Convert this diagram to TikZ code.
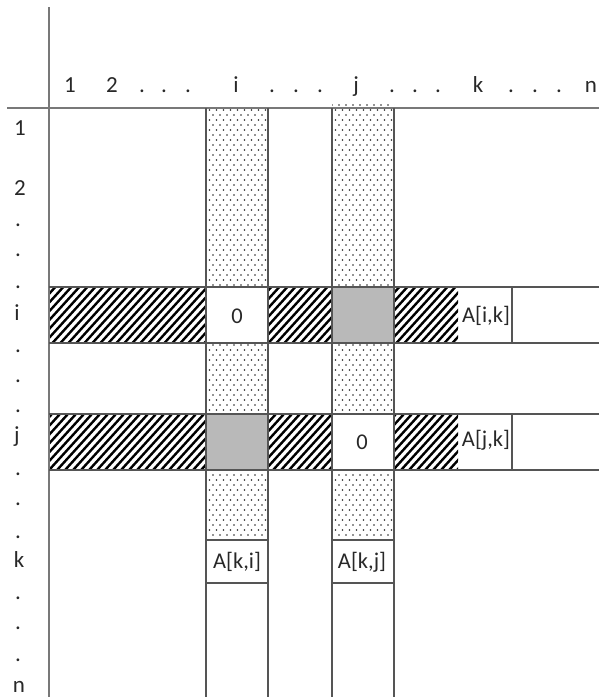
\documentclass[tikz,border=0pt]{standalone}
\usepackage{fontspec}
\setmainfont{Carlito}
\definecolor{linecol}{RGB}{85,85,85}
\definecolor{axiscol}{RGB}{120,120,120}
\definecolor{txtcol}{RGB}{40,40,40}
\definecolor{cellgray}{RGB}{185,185,185}
\definecolor{dotcol}{RGB}{40,40,40}
\begin{document}
\begin{tikzpicture}[x=1pt,y=-1pt,
  lbl/.style={anchor=base,inner sep=0pt,text=txtcol,font=\fontsize{23}{26}\selectfont},
  celltxt/.style={anchor=center,inner sep=0pt,text=txtcol,font=\fontsize{22.5}{26}\selectfont},
  grid/.style={draw=linecol,line width=1.1pt},
  axis/.style={draw=axiscol,line width=1.4pt},
  hatchline/.style={draw=black,line width=2.4pt},
  dotfill/.style={fill=dotcol}]
\useasboundingbox (0,0) rectangle (599,697);

% gray cells
\fill[cellgray] (332,287) rectangle (394,343);
\fill[cellgray] (206,414) rectangle (268,470);

% hatched areas
\begin{scope}
  \clip (49,287) rectangle (206,343) (268,287) rectangle (332,343) (394,287) rectangle (458,343)
        (49,414) rectangle (206,470) (268,414) rectangle (332,470) (394,414) rectangle (458,470);
  \foreach \x in {-120,-112,...,470} \draw[hatchline] (\x,480) -- ++(436,-480);
\end{scope}

% dotted areas
\begin{scope}
  \clip (206,108) rectangle (268,287) (206,343) rectangle (268,414) (206,470) rectangle (268,540)
        (332,104) rectangle (394,287) (332,343) rectangle (394,414) (332,470) rectangle (394,540);
  \foreach \r in {0,...,88} {
    \pgfmathsetmacro\yy{105+5*\r}
    \pgfmathsetmacro\off{mod(\r,2)*3.5}
    \foreach \k in {0,...,9} {
      \fill[dotfill] (206+\off+7*\k,\yy) circle (0.85);
      \fill[dotfill] (332+\off+7*\k,\yy) circle (0.85);
    }
  }
\end{scope}

% axes
\draw[axis] (49,7) -- (49,697);
\draw[axis] (7,108) -- (599,108);

% column band lines
\foreach \x in {206,268,332,394} \draw[grid] (\x,108) -- (\x,697);
% row band lines
\foreach \y in {287,343,414,470} \draw[grid] (49,\y) -- (599,\y);
% A cells
\draw[grid] (512,287) -- (512,343);
\draw[grid] (512,414) -- (512,470);
\draw[grid] (206,540) -- (268,540);
\draw[grid] (206,583) -- (268,583);
\draw[grid] (332,540) -- (394,540);
\draw[grid] (332,583) -- (394,583);

% column labels
\node[lbl] (c1) at (70,92.5) {1};
\node[lbl] (c2) at (112,92.5) {2};
\node[lbl] (cd1) at (142,92.5) {.};
\node[lbl] (cd2) at (164,92.5) {.};
\node[lbl] (cd3) at (188,92.5) {.};
\node[lbl] (ci) at (236,92.5) {i};
\node[lbl] (cd4) at (272,92.5) {.};
\node[lbl] (cd5) at (296,92.5) {.};
\node[lbl] (cd6) at (320,92.5) {.};
\node[lbl] (cj) at (356,92.5) {j};
\node[lbl] (cd7) at (392,92.5) {.};
\node[lbl] (cd8) at (415,92.5) {.};
\node[lbl] (cd9) at (438,92.5) {.};
\node[lbl] (ck) at (478,92.5) {k};
\node[lbl] (cd10) at (511,92.5) {.};
\node[lbl] (cd11) at (535,92.5) {.};
\node[lbl] (cd12) at (559,92.5) {.};
\node[lbl] (cn) at (591,92.5) {n};

% row labels
\node[lbl] (r1) at (20,135) {1};
\node[lbl] (r2) at (20,195) {2};
\node[lbl] (rd1) at (18,226) {.};
\node[lbl] (rd2) at (18,256) {.};
\node[lbl] (rd3) at (18,288) {.};
\node[lbl] (ri) at (17,320) {i};
\node[lbl] (rd4) at (18,352) {.};
\node[lbl] (rd5) at (18,382) {.};
\node[lbl] (rd6) at (18,412) {.};
\node[lbl] (rj) at (17,442) {j};
\node[lbl] (rd7) at (18,475) {.};
\node[lbl] (rd8) at (18,505) {.};
\node[lbl] (rd9) at (18,538) {.};
\node[lbl] (rk) at (19,567) {k};
\node[lbl] (rd10) at (18,599) {.};
\node[lbl] (rd11) at (18,629) {.};
\node[lbl] (rd12) at (18,661) {.};
\node[lbl] (rn) at (19,692) {n};

% cell texts
\node[celltxt] (zii) at (237,316) {0};
\node[celltxt] (zjj) at (362,442) {0};
\node[celltxt] (aik) at (486,316) {A[i,k]};
\node[celltxt] (ajk) at (486,440) {A[j,k]};
\node[celltxt] (aki) at (237,562) {A[k,i]};
\node[celltxt] (akj) at (362,562) {A[k,j]};
\end{tikzpicture}
\end{document}
